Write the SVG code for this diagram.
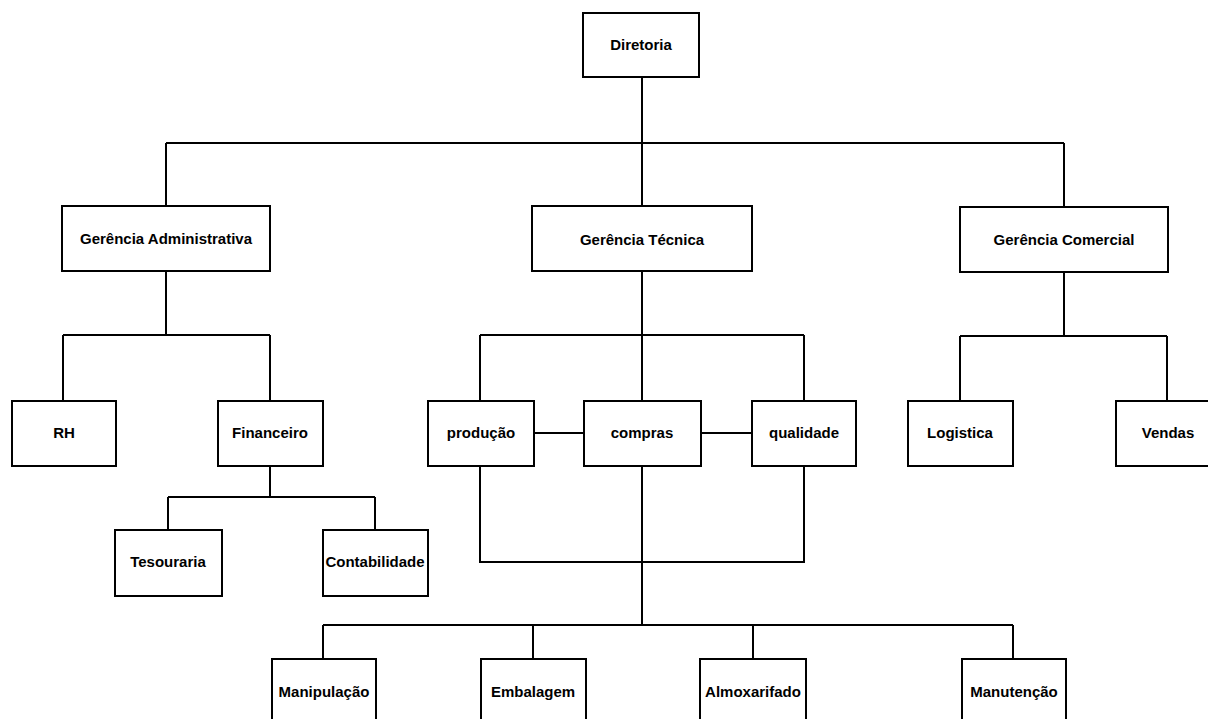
<svg xmlns="http://www.w3.org/2000/svg" width="1208" height="719" viewBox="0 0 1208 719">
<style>
.box{fill:#fff;stroke:#000;stroke-width:2}
.ln{fill:none;stroke:#000;stroke-width:2}
text{font-family:"Liberation Sans",Arial,sans-serif;font-weight:bold;font-size:15px;text-anchor:middle;fill:#000}
</style>
<rect width="1208" height="719" fill="#fff"/>
<g id="connectors">
<path class="ln" d="M642 77V143M166 143H1064M166 143V207M642 143V207M1064 143V207"/>
<path class="ln" d="M166 271V335M63 335H270M63 335V401M270 335V401"/>
<path class="ln" d="M270 466V497M168 497H375M168 497V530M375 497V530"/>
<path class="ln" d="M642 271V335M480 335H804M480 335V401M642 335V401M804 335V401"/>
<path class="ln" d="M534 433H584M701 433H752"/>
<path class="ln" d="M480 466V562H804V466M642 466V625M323 625H1013M323 625V659M533 625V659M753 625V659M1013 625V659"/>
<path class="ln" d="M1064 272V336M960 336H1167M960 336V401M1167 336V401"/>
</g>
<g id="diretoria"><rect class="box" x="583" y="13" width="116" height="64"/><text x="641" y="50">Diretoria</text></g>
<g id="ger-adm"><rect class="box" x="62" y="206" width="208" height="65"/><text x="166" y="244">Gerência Administrativa</text></g>
<g id="ger-tec"><rect class="box" x="532" y="206" width="220" height="65"/><text x="642" y="245">Gerência Técnica</text></g>
<g id="ger-com"><rect class="box" x="960" y="207" width="208" height="65"/><text x="1064" y="245">Gerência Comercial</text></g>
<g id="rh"><rect class="box" x="12" y="401" width="104" height="65"/><text x="64" y="438">RH</text></g>
<g id="financeiro"><rect class="box" x="218" y="401" width="105" height="65"/><text x="270" y="438">Financeiro</text></g>
<g id="producao"><rect class="box" x="428" y="401" width="106" height="65"/><text x="481" y="438">produção</text></g>
<g id="compras"><rect class="box" x="584" y="401" width="117" height="65"/><text x="642" y="438">compras</text></g>
<g id="qualidade"><rect class="box" x="752" y="401" width="104" height="65"/><text x="804" y="438">qualidade</text></g>
<g id="logistica"><rect class="box" x="908" y="401" width="105" height="65"/><text x="960" y="438">Logistica</text></g>
<g id="vendas"><rect class="box" x="1116" y="401" width="104" height="65"/><text x="1168" y="438">Vendas</text></g>
<g id="tesouraria"><rect class="box" x="115" y="530" width="107" height="66"/><text x="168" y="567">Tesouraria</text></g>
<g id="contabilidade"><rect class="box" x="323" y="530" width="105" height="66"/><text x="375" y="567">Contabilidade</text></g>
<g id="manipulacao"><rect class="box" x="272" y="659" width="104" height="70"/><text x="324" y="697">Manipulação</text></g>
<g id="embalagem"><rect class="box" x="481" y="659" width="105" height="70"/><text x="533" y="697">Embalagem</text></g>
<g id="almoxarifado"><rect class="box" x="700" y="659" width="106" height="70"/><text x="753" y="697">Almoxarifado</text></g>
<g id="manutencao"><rect class="box" x="962" y="659" width="104" height="70"/><text x="1014" y="697">Manutenção</text></g>
</svg>
